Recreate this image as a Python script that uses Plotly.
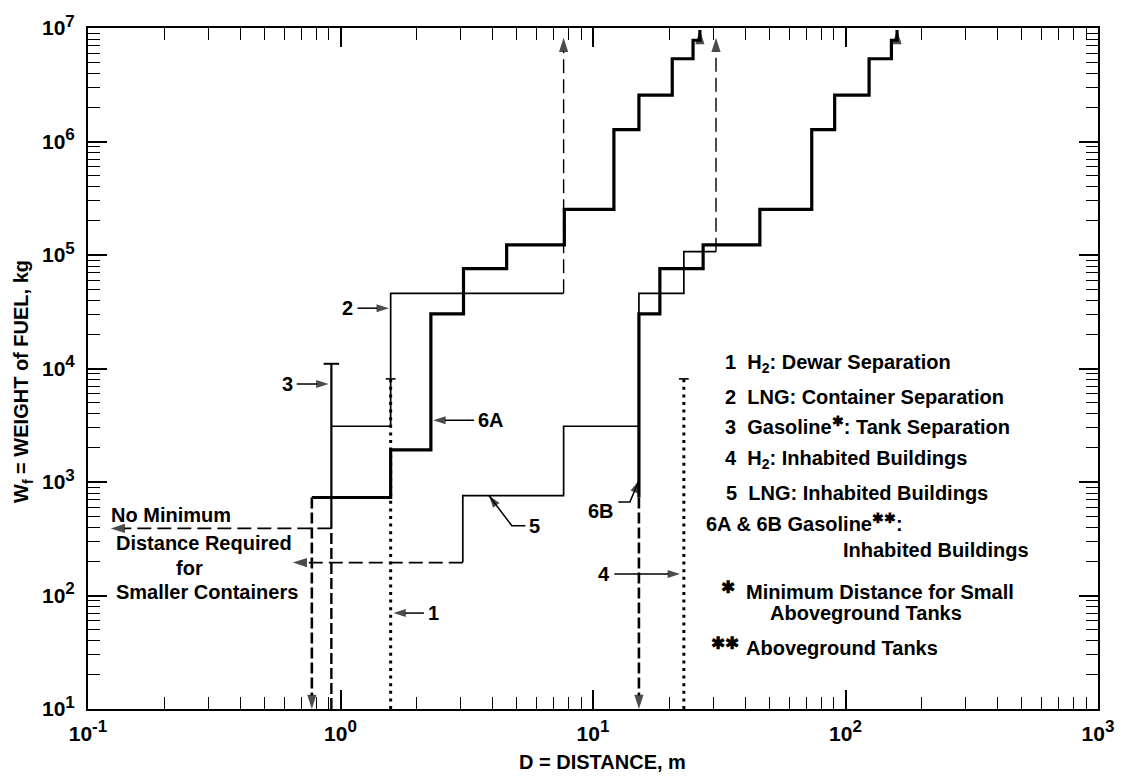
import math
import plotly.graph_objects as go

# ---------------- data ----------------
# 6A / 6B  gasoline, inhabited buildings (aboveground tanks):
# distance (m) used for each weight bracket, and the weight breakpoints (kg)
dist_6a = [0.77, 1.58, 2.28, 3.07, 4.55, 7.7, 12.1, 15.2, 20.6, 24.9, 26.5]
wt_6a = [730, 1920, 3.03e4, 7.6e4, 1.23e5, 2.52e5, 1.27e6, 2.56e6, 5.36e6, 7.8e6]
dist_6b = [15.2, 18.4, 27.3, 45.8, 73.5, 90.6, 124, 152, 160]
wt_6b = [3.03e4, 7.6e4, 1.23e5, 2.52e5, 1.27e6, 2.56e6, 5.36e6, 7.8e6]
wt_6_solid_from = 730        # dashed below this weight

# 5  LNG, inhabited buildings
dist_5 = [3.05, 7.65, 15.2, 22.9, 30.7]
wt_5 = [760, 3.1e3, 4.6e4, 1.07e5]
# 2  LNG, container separation
dist_2 = [0.92, 1.58, 7.65]
wt_2 = [3.1e3, 4.6e4]
wt_lng_no_min = 195          # no minimum distance for smaller LNG containers
dist_lng_no_min_end = 0.647

# 3  gasoline, tank separation
dist_3 = 0.92
wt_3_solid = [390, 1.1e4]
wt_gas_no_min = 390          # no minimum distance for smaller gasoline tanks
dist_gas_no_min_end = 0.123

# 1 / 4  hydrogen dewar separation / inhabited buildings
dist_1 = 1.58
dist_4 = 22.9
wt_h2_max = 8.1e3

W_MIN, W_MAX = 10, 1e7
W_TOP_SOLID = 9.6e6          # arrow tips of the open-ended solid steps
W_TOP_DASH = 8.2e6           # arrow tips of the open-ended dashed lines

# curve labels: text, leader points (distance, weight) from label to curve, side
curve_labels = [
    ("1", [(2.14, 70), (1.62, 70)], "left"),
    ("2", [(1.167, 3.4e4), (1.555, 3.4e4)], "right"),
    ("3", [(0.671, 7.3e3), (0.897, 7.3e3)], "right"),
    ("6A", [(3.38, 3.5e3), (2.33, 3.5e3)], "left"),
    ("4", [(12.15, 155), (22.1, 155)], "right"),
    ("5", [(5.4, 412), (4.77, 412), (3.87, 760)], "left"),
    ("6B", [(12.6, 665), (14.0, 665), (15.2, 1030)], "right"),
]

FONT = "Liberation Sans, Arial, sans-serif"
BLACK = "black"
L = math.log10


def step_path(dists, wts, w_lo, w_hi):
    xs, ys = [dists[0]], [w_lo]
    for i, w in enumerate(wts):
        xs += [dists[i], dists[i + 1]]
        ys += [w, w]
    xs.append(dists[-1])
    ys.append(w_hi)
    return xs, ys


fig = go.Figure()


def line(xs, ys, width, dash="solid", arrow=0):
    """Polyline; with arrow > 0 an arrowhead of that size is put on the last point."""
    sizes = [0] * (len(xs) - 1) + [arrow]
    fig.add_trace(go.Scatter(
        x=xs, y=ys, mode="lines+markers" if arrow else "lines",
        showlegend=False, hoverinfo="skip",
        line=dict(color=BLACK, width=width, dash=dash),
        marker=dict(symbol="arrow", size=sizes, angleref="previous",
                    color=BLACK, line=dict(width=0))))


LONG_DASH_THICK = "11px,4px"
LONG_DASH_THIN = "14px,6px"
DOTS = "3px,4.6px"
HEAD_END = 15
HEAD_LABEL = 13

# curve 6A
x, y = step_path(dist_6a, wt_6a, wt_6_solid_from, W_TOP_SOLID)
line(x, y, 3.2, arrow=HEAD_END)
line([dist_6a[0], dist_6a[0]], [wt_6_solid_from, W_MIN], 2.6, LONG_DASH_THICK, arrow=HEAD_END)
# curve 6B
x, y = step_path(dist_6b, wt_6b, wt_6_solid_from, W_TOP_SOLID)
line(x, y, 3.2, arrow=HEAD_END)
line([dist_6b[0], dist_6b[0]], [wt_6_solid_from, W_MIN], 2.6, LONG_DASH_THICK, arrow=HEAD_END)

# curve 5
x, y = step_path(dist_5, wt_5, wt_lng_no_min, wt_5[-1])
line(x, y, 1.7)
line([dist_5[-1], dist_5[-1]], [wt_5[-1], W_TOP_DASH], 1.4, LONG_DASH_THIN, arrow=HEAD_END)
line([dist_5[0], dist_lng_no_min_end], [wt_lng_no_min, wt_lng_no_min], 1.7,
     LONG_DASH_THIN, arrow=HEAD_END)

# curve 2
x, y = step_path(dist_2, wt_2, wt_2[0], wt_2[-1])
line(x, y, 1.7)
line([dist_2[-1], dist_2[-1]], [wt_2[-1], W_TOP_DASH], 1.4, LONG_DASH_THIN, arrow=HEAD_END)

# curve 3
line([dist_3, dist_3], wt_3_solid, 2.2)
line([dist_3, dist_3], [W_MIN, wt_gas_no_min], 2.4, LONG_DASH_THICK)
line([dist_3, dist_gas_no_min_end], [wt_gas_no_min, wt_gas_no_min], 1.7,
     LONG_DASH_THIN, arrow=HEAD_END)

# curves 1 and 4 (dotted)
line([dist_1, dist_1], [W_MIN, wt_h2_max], 3, DOTS)
line([dist_4, dist_4], [W_MIN, wt_h2_max], 3, DOTS)

# end caps
fig.add_trace(go.Scatter(
    x=[dist_3], y=[wt_3_solid[1]], mode="markers", showlegend=False, hoverinfo="skip",
    marker=dict(symbol="line-ew", size=11, line=dict(color=BLACK, width=2))))
fig.add_trace(go.Scatter(
    x=[dist_1, dist_4], y=[wt_h2_max, wt_h2_max], mode="markers", showlegend=False,
    hoverinfo="skip", marker=dict(symbol="line-ew", size=7, line=dict(color=BLACK, width=1.6))))

annotations = []

# labels with their leaders
for text, pts, side in curve_labels:
    line([p[0] for p in pts], [p[1] for p in pts], 1.5, arrow=HEAD_LABEL)
    d0, w0 = pts[0]
    bent = len(pts) > 2
    annotations.append(dict(
        x=L(d0), y=L(w0), xref="x", yref="y", text=text, showarrow=False,
        xanchor="right" if side == "right" else "left",
        xshift=-2 if side == "right" else 2,
        yshift=-9 if (bent and side == "right") else 0,
        font=dict(size=20)))

# free text, placed in pixel units of the 1126 x 776 canvas
PL, PT, PW, PH = 88, 18, 1013, 691


def px(x):
    return (x - PL) / PW


def py(y):
    return (PT + PH - y) / PH


NB = "\u00a0"
STAR = "\u2731"
free_text = [
    (f"1{NB}{NB}H<sub>2</sub>: Dewar Separation", 725, 358, "left", 20),
    (f"2{NB}{NB}LNG: Container Separation", 725, 392, "left", 20),
    (f"3{NB}{NB}Gasoline<sup>{STAR}</sup>: Tank Separation", 725, 421, "left", 20),
    (f"4{NB}{NB}H<sub>2</sub>: Inhabited Buildings", 725, 456, "left", 20),
    (f"5{NB}{NB}LNG: Inhabited Buildings", 726, 490, "left", 20),
    (f"6A & 6B Gasoline<sup>{STAR}{STAR}</sup>:", 706, 520, "left", 20),
    ("Inhabited Buildings", 843, 548, "left", 20),
    (STAR, 721, 586, "left", 17),
    ("Minimum Distance for Small", 746, 590, "left", 20),
    ("Aboveground Tanks", 770, 612, "left", 20),
    (STAR + STAR, 711, 643, "left", 17),
    ("Aboveground Tanks", 746, 647, "left", 20),
    ("No Minimum", 109, 512, "left", 20),
    ("Distance Required", 114, 541, "left", 20),
    ("for", 190, 566, "center", 20),
    ("Smaller Containers", 114, 590, "left", 20),
    ("D = DISTANCE, m", 604, 763, "center", 20),
]
for text, x0, y0, anchor, size in free_text:
    annotations.append(dict(x=px(x0), y=py(y0), xref="paper", yref="paper", text=text,
                            showarrow=False, xanchor=anchor, yanchor="middle",
                            font=dict(size=size)))
annotations.append(dict(x=px(23), y=py(377), xref="paper", yref="paper",
                        text="W<sub>f</sub> = WEIGHT of FUEL, kg", textangle=-90,
                        showarrow=False, xanchor="center", yanchor="middle",
                        font=dict(size=20)))

minor_x = [k * 10.0 ** e for e in range(-1, 3) for k in range(2, 10)]
minor_y = [k * 10.0 ** e for e in range(1, 7) for k in range(2, 10)]


def axis(vals, minor_vals, rng):
    return dict(
        type="log", range=rng, tickmode="array", tickvals=vals,
        ticktext=[f"10<sup><span style='font-size:17px'>{round(L(v))}</span></sup>"
                  for v in vals],
        ticks="inside", ticklen=19, tickwidth=1.5, tickcolor=BLACK,
        showline=True, linewidth=2, linecolor=BLACK, mirror="ticks",
        showgrid=False, zeroline=False, tickfont=dict(size=21),
        minor=dict(tickmode="array", tickvals=minor_vals, ticks="inside",
                   ticklen=12, tickwidth=1.2, tickcolor=BLACK, showgrid=False),
    )


xaxis = axis([0.1, 1, 10, 100, 1000], minor_x, [-1, 3])
yaxis = axis([1e1, 1e2, 1e3, 1e4, 1e5, 1e6, 1e7], minor_y, [1, 7])
xaxis["ticklabelstandoff"] = 5
yaxis["ticklabelstandoff"] = 7

fig.update_layout(
    width=1126, height=776,
    margin=dict(l=PL, r=1126 - PL - PW, t=PT, b=776 - PT - PH),
    paper_bgcolor="white", plot_bgcolor="white",
    font=dict(family=FONT, size=20, color=BLACK, weight="bold"),
    xaxis=xaxis, yaxis=yaxis,
    annotations=annotations,
    showlegend=False,
)

fig.write_html("out.html")
